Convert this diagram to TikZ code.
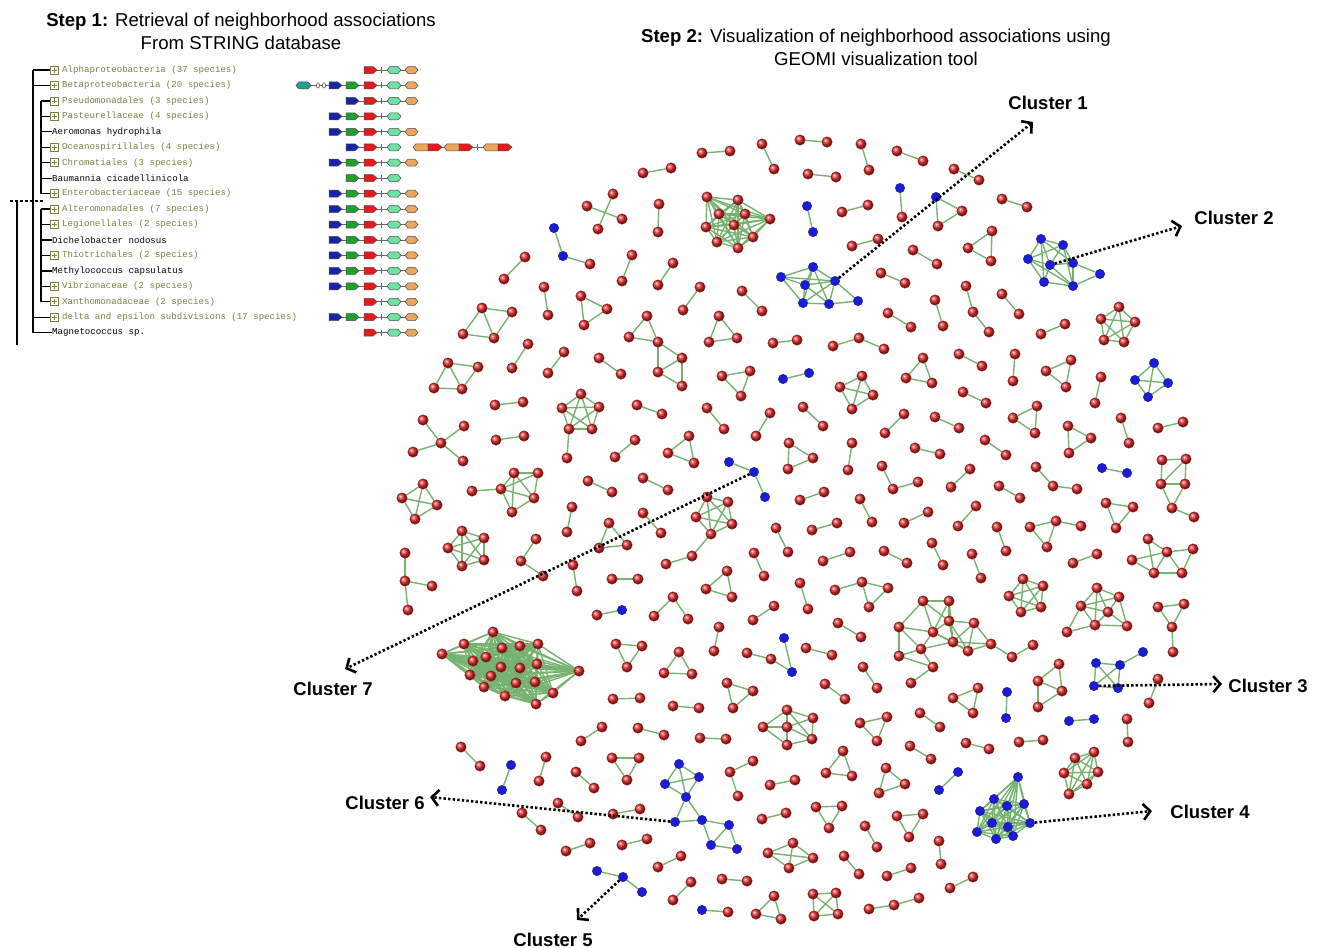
\documentclass[tikz,border=0pt]{standalone}
\usepackage{fontspec}
\setmainfont{Liberation Sans}
\newfontfamily\monofnt{Liberation Mono}
\usetikzlibrary{arrows.meta}
\pgfdeclarelayer{bg}
\pgfsetlayers{bg,main}
\definecolor{edgegreen}{RGB}{118,178,112}
\definecolor{nred}{RGB}{225,40,40}
\definecolor{nredd}{RGB}{140,20,20}
\definecolor{nblue}{RGB}{28,28,215}
\definecolor{nblued}{RGB}{10,10,110}
\definecolor{olivetxt}{RGB}{125,125,70}
\definecolor{gblue}{RGB}{25,35,170}
\definecolor{ggreen}{RGB}{30,160,45}
\definecolor{gred}{RGB}{230,25,30}
\definecolor{gmint}{RGB}{110,225,165}
\definecolor{gorange}{RGB}{235,165,95}
\definecolor{gteal}{RGB}{30,160,150}
\tikzset{
 ballr/.style={circle,inner sep=0pt,minimum size=10.5pt,shading=ball,ball color=nred,draw=nredd,line width=0.3pt},
 ballb/.style={circle,inner sep=0pt,minimum size=9.5pt,fill=nblue,draw=nblued,line width=0.3pt},
 edge/.style={draw=edgegreen,line width=1.4pt},
 callout/.style={line width=2.6pt,dash pattern=on 2.4pt off 2.2pt,line cap=butt,
   -{Straight Barb[length=7pt,width=16pt,line width=2.6pt]}},
 clabel/.style={font=\bfseries\fontsize{18.5}{21}\selectfont,inner sep=1pt},
 title/.style={align=center,font=\fontsize{18.6}{23}\selectfont,inner sep=0pt},
 ttext/.style={anchor=west,inner sep=0pt,font=\monofnt\fontsize{9.1}{10}\selectfont},
 tbox/.style={draw=olivetxt,line width=0.7pt,rectangle,inner sep=0pt,minimum size=8pt},
 tline/.style={draw=black,line width=1.3pt},
 gout/.style={draw=black!70,line width=0.5pt},
 gconn/.style={draw=black!60,line width=0.8pt}
}
% graph components
\newcommand\full[2]{%
  \foreach \px/\py/\pcol [count=\i] in {#2} {\edef\mknode{\noexpand\node[ball\pcol] (#1n\i) at (\px,\py) {};}\mknode\xdef\nn{\i}}%
  \begin{pgfonlayer}{bg}%
  \foreach \ia in {1,...,\nn} {\foreach \ib in {1,...,\nn} {\ifnum\ia<\ib\relax \draw[edge] (#1n\ia) -- (#1n\ib);\fi}}%
  \end{pgfonlayer}}
\newcommand\comp[3]{%
  \foreach \px/\py/\pcol [count=\i] in {#2} {\edef\mknode{\noexpand\node[ball\pcol] (#1n\i) at (\px,\py) {};}\mknode}%
  \begin{pgfonlayer}{bg}%
  \foreach \ia/\ib in {#3} {\draw[edge] (#1n\ia) -- (#1n\ib);}%
  \end{pgfonlayer}}
\newcounter{cmp}
\newcommand\fa[1]{\stepcounter{cmp}\edef\cname{g\arabic{cmp}}\full{\cname}{#1}}
\newcommand\ca[2]{\stepcounter{cmp}\edef\cname{g\arabic{cmp}}\comp{\cname}{#1}{#2}}
% tree rows
\newcommand\gy[1]{\pgfmathsetmacro\ry{70+15.45*(#1-1)}}
\newcommand\brow[3]{\gy{#1}%
  \node[tbox] (bx#1) at (54,\ry) {};
  \draw[draw=olivetxt,line width=0.7pt] (51.5,\ry) -- (56.5,\ry) (54,\ry-2.5) -- (54,\ry+2.5);
  \node[ttext,text=olivetxt] (tx#1) at (62,\ry) {#3};
  \draw[tline] (#2,\ry) -- (bx#1.west);}
\newcommand\lrow[3]{\gy{#1}%
  \node[ttext] (tx#1) at (52,\ry) {#3};
  \draw[tline] (#2,\ry) -- (tx#1.west);}
% genes
\newcommand\gline[2]{\draw[gconn] (#1,\ry) -- (#2,\ry);}
\newcommand\garrow[3]{\draw[gout,fill=#1] (#2,\ry-3.5) -- (#2+#3-4,\ry-3.5) -- (#2+#3,\ry) -- (#2+#3-4,\ry+3.5) -- (#2,\ry+3.5) -- cycle;}
\newcommand\ghex[3]{\draw[gout,fill=#1] (#2,\ry) -- (#2+3,\ry-3.5) -- (#2+#3-3,\ry-3.5) -- (#2+#3,\ry) -- (#2+#3-3,\ry+3.5) -- (#2+3,\ry+3.5) -- cycle;}
\newcommand\gB{\garrow{gblue}{329}{13}}
\newcommand\gG{\garrow{ggreen}{346}{13}}
\newcommand\gb{\garrow{gblue}{346}{13}}
\newcommand\gR{\garrow{gred}{364}{13}}
\newcommand\gT{\draw[gconn] (381,\ry-3) -- (381,\ry+3);}
\newcommand\gM{\ghex{gmint}{387}{14}}
\newcommand\gO{\ghex{gorange}{405}{13}}
\newcommand\gall{\gline{329}{418}\gB\gG\gR\gT\gM\gO}
\newcommand\ghalf[1]{\draw[gout,fill=gorange] (#1,\ry) -- (#1+3,\ry-3.5) -- (#1+15,\ry-3.5) -- (#1+15,\ry+3.5) -- (#1+3,\ry+3.5) -- cycle;\garrow{gred}{#1+15}{14}}
\begin{document}
\begin{tikzpicture}[x=1pt,y=-1pt]
\useasboundingbox (0,0) rectangle (1318,948);
% titles
\node[title] (s1) at (241,31) {\textbf{Step 1:} Retrieval of neighborhood associations\\From STRING database};
\node[title] (s2) at (876,47) {\textbf{Step 2:} Visualization of neighborhood associations using\\GEOMI visualization tool};
% tree
\draw[tline] (33,70) -- (33,332.6);
\draw[tline] (41,100.9) -- (41,193.6);
\draw[tline] (41,209.1) -- (41,301.8);
\draw[tline] (17,201) -- (17,345);
\draw[line width=1.3pt,dash pattern=on 3pt off 2pt] (10,201) -- (43,201);
\brow{1}{33}{Alphaproteobacteria (37 species)}
\brow{2}{33}{Betaproteobacteria (20 species)}
\brow{3}{41}{Pseudomonadales (3 species)}
\brow{4}{41}{Pasteurellaceae (4 species)}
\lrow{5}{41}{Aeromonas hydrophila}
\brow{6}{41}{Oceanospirillales (4 species)}
\brow{7}{41}{Chromatiales (3 species)}
\lrow{8}{41}{Baumannia cicadellinicola}
\brow{9}{41}{Enterobacteriaceae (15 species)}
\brow{10}{41}{Alteromonadales (7 species)}
\brow{11}{41}{Legionellales (2 species)}
\lrow{12}{41}{Dichelobacter nodosus}
\brow{13}{41}{Thiotrichales (2 species)}
\lrow{14}{41}{Methylococcus capsulatus}
\brow{15}{41}{Vibrionaceae (2 species)}
\brow{16}{41}{Xanthomonadaceae (2 species)}
\brow{17}{33}{delta and epsilon subdivisions (17 species)}
\lrow{18}{33}{Magnetococcus sp.}
% genes
\gy{1}\gline{364}{418}\gR\gT\gM\gO
\gy{2}\gline{296}{418}\ghex{gteal}{296}{15}\draw[gout,fill=white] (318,\ry) ellipse (1.6 and 2.6) (324,\ry) ellipse (1.6 and 2.6);\gB\gG\gR\gT\gM\gO
\gy{3}\gline{346}{418}\gb\gR\gT\gM\gO
\gy{4}\gline{329}{401}\gB\gG\gR\gT\gM
\gy{5}\gall
\gy{6}\gline{346}{401}\gb\gR\gT\gM\gline{413}{512}\ghalf{413}\ghalf{444}\draw[gconn] (477,\ry-3) -- (477,\ry+3);\ghalf{483}
\gy{7}\gall
\gy{8}\gline{346}{401}\gG\gR\gT\gM
\gy{9}\gall
\gy{10}\gall
\gy{11}\gall
\gy{12}\gall
\gy{13}\gall
\gy{14}\gall
\gy{15}\gall
\gy{16}\gline{364}{418}\gR\gT\gM\gO
\gy{17}\gall
\gy{18}\gline{364}{418}\gR\gT\gM\gO
% ===== network =====
\fa{702/153/r,730/151/r}
\fa{762/144/r,774/169/r}
\fa{643/173/r,671/168/r}
\fa{587/206/r,622/219/r}
\fa{613/194/r,598/229/r}
\fa{659/204/r,658/232/r}
\fa{707/197/r,738/200/r,770/219/r,719/214/r,745/214/r,706/227/r,734/225/r,753/237/r,717/242/r,738/248/r}
\ca{554/228/b,563/256/b,590/264/r}{1/2,2/3}
\fa{525/257/r,504/279/r}
\fa{632/255/r,622/281/r}
\fa{673/263/r,658/285/r}
\fa{544/287/r,548/315/r}
\fa{581/296/r,607/309/r,584/325/r}
\fa{700/287/r,683/310/r}
\fa{742/291/r,762/311/r}
\ca{482/308/r,512/312/r,463/334/r,494/338/r}{1/2,1/3,1/4,3/4,2/4}
\ca{647/316/r,629/337/r,658/342/r,682/358/r,658/372/r,682/386/r}{1/2,1/3,2/3,3/4,3/5,4/5,4/6,5/6}
\fa{719/316/r,709/342/r,737/338/r}
\fa{773/343/r,797/340/r}
\fa{528/344/r,512/368/r}
\fa{564/352/r,548/373/r}
\fa{599/358/r,621/374/r}
\ca{448/363/r,478/367/r,434/388/r,462/389/r}{1/2,1/3,1/4,3/4,2/4}
\fa{722/376/r,750/371/r,741/396/r}
\fa{783/379/b,809/373/b}
\fa{800/140/r,827/142/r}
\fa{861/144/r,869/170/r}
\fa{897/151/r,923/161/r}
\fa{808/174/r,836/177/r}
\fa{954/169/r,979/180/r}
\fa{807/206/b,813/232/b}
\fa{900/188/b,902/217/r}
\fa{842/212/r,868/205/r}
\fa{936/197/b,962/211/r,938/226/r}
\fa{1002/199/r,1027/207/r}
\fa{852/246/r,878/239/r}
\fa{992/231/r,968/248/r,991/261/r}
\fa{913/250/r,937/264/r}
\comp{c1}{781/277/b,813/267/b,805/285/b,835/281/b,803/303/b,829/304/b,858/301/b}{1/2,1/3,1/5,2/3,2/4,2/5,2/6,3/4,3/5,3/6,4/5,4/6,4/7,5/6,6/7,1/4}
\fa{881/273/r,905/283/r}
\ca{966/286/r,973/312/r,989/332/r}{1/2,2/3}
\fa{935/300/r,943/326/r}
\fa{1002/294/r,1019/314/r}
\comp{c2}{1041/239/b,1063/245/b,1028/259/b,1050/265/b,1073/263/b,1044/282/b,1073/286/b,1100/274/b}{1/2,1/3,1/4,1/6,2/3,2/4,2/5,3/4,3/6,3/7,4/5,4/6,4/7,5/7,5/8,6/7,7/8,2/7,1/5}
\fa{888/313/r,911/327/r}
\fa{1041/334/r,1065/324/r}
\fa{1119/307/r,1101/319/r,1135/322/r,1104/340/r,1124/342/r}
\ca{833/346/r,859/338/r,884/349/r}{1/2,2/3}
\fa{959/354/r,982/366/r}
\fa{1015/354/r,1013/381/r}
\fa{923/358/r,906/378/r,932/383/r}
\fa{1071/360/r,1046/371/r,1066/387/r}
\fa{1154/363/b,1135/380/b,1168/383/b,1148/397/b}
\fa{862/376/r,840/387/r,873/395/r,852/409/r}
\fa{1101/377/r,1095/403/r}
\fa{963/392/r,986/403/r}
\fa{495/405/r,523/402/r}
\ca{581/394/r,562/408/r,599/407/r,569/429/r,592/429/r,567/458/r}{1/2,1/3,1/4,1/5,2/3,2/4,2/5,3/4,3/5,4/5,4/6}
\fa{637/405/r,662/414/r}
\fa{707/408/r,724/429/r}
\fa{770/413/r,756/436/r}
\ca{441/443/r,423/420/r,464/426/r,413/452/r,463/461/r}{1/2,1/3,1/4,1/5}
\fa{496/440/r,524/436/r}
\fa{635/440/r,615/457/r}
\fa{689/436/r,668/453/r,694/463/r}
\comp{c7}{729/462/b,754/472/b,765/497/b}{1/2,2/3}
\fa{789/443/r,788/469/r,813/458/r}
\fa{423/484/r,402/498/r,437/505/r,415/519/r}
\ca{514/473/r,538/473/r,501/489/r,534/498/r,512/512/r,472/491/r}{1/2,1/3,1/4,1/5,2/3,2/4,3/4,3/5,4/5,3/6}
\fa{588/481/r,612/492/r}
\fa{643/478/r,668/490/r}
\fa{572/507/r,567/532/r}
\fa{462/531/r,484/538/r,448/548/r,484/560/r,462/566/r}
\fa{609/523/r,599/548/r,627/545/r}
\fa{643/513/r,661/533/r}
\ca{707/497/r,728/502/r,696/517/r,732/524/r,711/534/r,692/556/r,666/564/r}{1/2,1/3,1/4,1/5,2/3,2/4,2/5,3/4,3/5,4/5,5/6,6/7}
\fa{776/528/r,788/552/r}
\ca{536/539/r,521/561/r,543/576/r}{1/2,2/3}
\fa{573/565/r,577/591/r}
\ca{405/553/r,405/581/r,432/586/r,408/610/r}{1/2,2/3,2/4}
\fa{612/579/r,638/579/r}
\fa{754/553/r,764/576/r}
\fa{727/571/r,706/589/r,732/597/r}
\fa{597/615/r,622/610/b}
\ca{673/597/r,654/616/r,688/619/r}{1/2,1/3}
\fa{774/606/r,753/620/r}
\fa{719/627/r,714/651/r}
\fa{803/407/r,823/426/r}
\fa{904/414/r,885/433/r}
\fa{935/417/r,959/428/r}
\fa{1037/406/r,1013/418/r,1035/433/r}
\fa{1121/418/r,1129/443/r}
\fa{1158/428/r,1183/422/r}
\fa{1068/426/r,1091/438/r,1069/453/r}
\fa{852/443/r,848/470/r}
\fa{915/448/r,940/454/r}
\fa{985/440/r,1006/455/r}
\fa{1102/468/b,1127/473/b}
\ca{1162/460/r,1186/459/r,1161/484/r,1185/484/r,1172/508/r,1194/517/r}{1/2,1/3,2/4,3/4,2/3,3/5,4/5,5/6}
\fa{824/492/r,800/500/r}
\ca{882/466/r,893/489/r,918/482/r}{1/2,2/3}
\fa{970/469/r,951/487/r}
\ca{1036/467/r,1053/486/r,1077/489/r}{1/2,2/3}
\fa{999/486/r,1020/498/r}
\fa{860/499/r,872/522/r}
\fa{1106/503/r,1133/507/r,1116/528/r}
\fa{812/530/r,837/523/r}
\fa{928/512/r,904/523/r}
\fa{976/506/r,958/526/r}
\fa{997/527/r,1006/551/r}
\ca{1030/527/r,1056/521/r,1081/526/r,1047/547/r}{1/2,2/3,1/4,2/4}
\fa{932/543/r,943/565/r}
\fa{884/551/r,907/563/r}
\fa{823/561/r,850/552/r}
\fa{972/554/r,981/578/r}
\fa{1073/563/r,1097/554/r}
\ca{1148/539/r,1167/552/r,1193/549/r,1132/560/r,1154/573/r,1182/573/r}{1/2,2/3,4/2,1/5,2/5,2/6,3/6,5/6,4/5}
\fa{800/583/r,808/609/r}
\ca{835/590/r,862/582/r,888/588/r,869/607/r}{1/2,2/3,3/4,2/4}
\fa{1023/579/r,1043/586/r,1009/596/r,1041/607/r,1021/612/r}
\ca{1097/588/r,1119/597/r,1081/606/r,1108/612/r,1067/632/r,1095/625/r,1127/626/r}{1/2,1/3,1/4,2/4,3/4,1/6,3/6,4/6,2/7,4/7,3/5,5/6,6/7,2/3}
\ca{1158/607/r,1184/604/r,1172/627/r,1173/652/r}{1/2,1/3,2/3,3/4}
\fa{838/623/r,861/637/r}
\ca{923/601/r,949/601/r,949/621/r,899/627/r,933/632/r,974/623/r,953/642/r,991/644/r,921/649/r,968/651/r,899/656/r,1012/657/r,1033/645/r,933/667/r,911/683/r}{1/2,1/3,1/5,2/3,2/5,3/5,3/6,3/7,3/10,4/5,4/9,4/11,5/7,5/9,5/10,6/8,6/10,7/8,7/9,7/10,8/10,8/12,9/11,9/14,11/14,12/13,14/15,1/4,2/7,6/7}
\fa{806/648/r,832/655/r}
\ca{784/638/b,792/672/b,771/659/r,747/653/r}{1/2,3/4,3/2}
\fa{863/667/r,877/688/r}
\fa{825/684/r,845/699/r}
\comp{c3}{1096/663/b,1120/665/b,1094/686/b,1118/688/b,1143/652/b}{1/2,1/3,1/4,2/3,2/4,3/4,2/5}
\fa{1158/679/r,1149/703/r}
\ca{1059/664/r,1038/681/r,1062/691/r,1038/707/r}{1/2,1/3,2/3,2/4,3/4}
\fa{978/688/r,953/698/r,973/713/r}
\fa{1007/692/b,1006/718/b}
\fa{1069/721/b,1094/719/b}
\fa{1127/719/r,1128/742/r}
\fa{887/717/r,860/723/r,877/741/r}
\fa{920/713/r,940/727/r}
\fa{966/743/r,989/749/r}
\fa{1019/742/r,1043/740/r}
\fa{910/746/r,931/759/r}
\fa{843/751/r,826/773/r,852/776/r}
\ca{787/710/r,763/727/r,787/727/r,787/745/r,813/718/r,812/739/r}{1/2,1/3,2/3,2/4,3/4,1/5,3/5,5/6,3/6,4/6,1/6}
\fa{886/768/r,879/793/r,905/784/r}
\fa{958/772/b,939/790/b}
\fa{1075/758/r,1094/752/r,1064/773/r,1098/772/r,1087/784/r,1069/794/r}
\full{c4}{1018/777/b,994/799/b,1007/806/b,1024/804/b,980/811/b,992/823/b,1008/827/b,1030/823/b,977/832/b,996/839/b,1013/836/b}
\fa{816/807/r,842/806/r,829/828/r}
\fa{897/816/r,923/814/r,909/837/r}
\fa{865/826/r,877/847/r}
\fa{939/841/r,941/864/r}
\fa{793/843/r,768/853/r,789/868/r,813/858/r}
\fa{844/856/r,859/874/r}
\fa{887/876/r,911/868/r}
\fa{973/877/r,950/888/r}
\fa{813/894/r,836/893/r,814/916/r,838/914/r}
\ca{869/909/r,894/905/r,919/898/r}{1/2,2/3}
\fa{616/644/r,642/646/r,627/667/r}
\fa{679/652/r,664/673/r,692/674/r}
\fa{613/699/r,640/698/r}
\fa{673/706/r,699/708/r}
\fa{727/683/r,753/691/r,733/708/r}
\fa{602/727/r,581/741/r}
\fa{638/728/r,664/735/r}
\fa{700/738/r,726/739/r}
\fa{461/747/r,480/766/r}
\fa{511/765/b,502/790/b}
\fa{546/757/r,539/781/r}
\fa{612/758/r,639/758/r,627/780/r}
\fa{576/772/r,594/788/r}
\comp{c6}{679/764/b,699/777/b,665/784/b,686/797/b,675/822/b,702/820/b,729/825/b,711/845/b,737/849/b}{1/2,1/3,1/4,2/3,2/4,3/4,4/5,4/6,5/6,6/7,6/8,7/8,7/9,8/9}
\ca{753/761/r,730/772/r,738/796/r}{1/2,2/3}
\fa{770/785/r,795/780/r}
\fa{558/803/r,578/817/r}
\fa{522/813/r,541/830/r}
\fa{613/814/r,640/809/r}
\fa{762/819/r,786/813/r}
\fa{566/851/r,590/843/r}
\fa{622/845/r,647/839/r}
\fa{658/867/r,681/856/r}
\comp{c5}{597/871/b,623/877/b,642/892/b}{1/2,2/3}
\fa{673/900/r,691/882/r}
\fa{722/879/r,747/881/r}
\fa{702/910/b,728/912/r}
\fa{774/896/r,756/914/r,781/919/r}
\fa{493/632/r,464/644/r,520/646/r,538/644/r,442/654/r,502/648/r,486/657/r,473/661/r,520/668/r,501/667/r,537/664/r,470/675/r,491/676/r,579/671/r,484/687/r,516/683/r,535/682/r,505/696/r,553/693/r,536/704/r}
% ===== callouts =====
\coordinate (a1) at (1033,122);
\coordinate (a2) at (1182,226);
\coordinate (a3) at (1222,684);
\coordinate (a4) at (1152,811);
\coordinate (a5) at (577,920);
\coordinate (a6) at (430,797);
\coordinate (a7) at (345,669);
\draw[callout] (c1n4) -- (a1);
\draw[callout] (c2n4) -- (a2);
\draw[callout] (c3n3) -- (a3);
\draw[callout] (c4n8) -- (a4);
\draw[callout] (c5n2) -- (a5);
\draw[callout] (c6n5) -- (a6);
\draw[callout] (c7n2) -- (a7);
\node[clabel] (l1) at (1048,103) {Cluster 1};
\node[clabel] (l2) at (1234,218) {Cluster 2};
\node[clabel] (l3) at (1268,686) {Cluster 3};
\node[clabel] (l4) at (1210,812) {Cluster 4};
\node[clabel] (l5) at (553,940) {Cluster 5};
\node[clabel] (l6) at (385,803) {Cluster 6};
\node[clabel] (l7) at (333,689) {Cluster 7};
\end{tikzpicture}
\end{document}
